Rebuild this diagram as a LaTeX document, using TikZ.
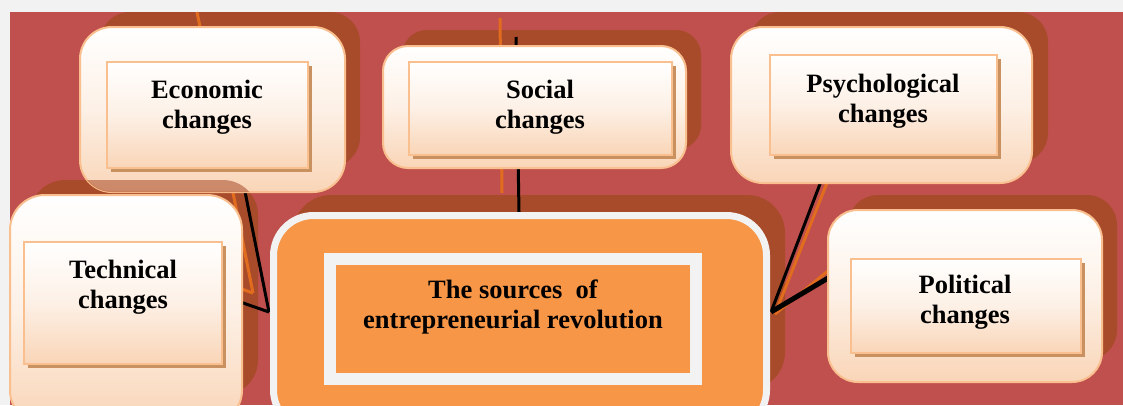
\documentclass[tikz,border=0pt]{standalone}
\usepackage{fontspec}
\setmainfont{Liberation Serif}
\usetikzlibrary{fit}
\definecolor{bgred}{RGB}{192,80,77}
\definecolor{pagegray}{RGB}{242,242,242}
\definecolor{shadowbrown}{RGB}{168,75,42}
\definecolor{peach}{RGB}{249,213,183}
\definecolor{peachborder}{RGB}{250,191,143}
\definecolor{tanshadow}{RGB}{201,145,96}
\definecolor{accorange}{RGB}{247,150,70}
\definecolor{darkorange}{RGB}{198,108,42}
\definecolor{lineorange}{RGB}{226,108,30}
\begin{document}
\begin{tikzpicture}[x=1pt,y=-1pt,
  outerbox/.style={draw=peachborder, line width=2pt, top color=white, bottom color=peach, middle color=peach!35!white, rounded corners=#1, inner sep=0pt},
  innerbox/.style={draw=peachborder, line width=2pt, top color=white, bottom color=peach, middle color=peach!35!white, inner sep=0pt},
  boxtext/.style={font=\fontsize{26.5}{30}\selectfont\bfseries, align=center, anchor=base, inner sep=0pt},
  link/.style={line width=3pt, black},
  linkshade/.style={line width=3pt, lineorange},
  shadowbox/.style={fill=shadowbrown, rounded corners=#1},
  innershadow/.style={fill=tanshadow}
]
\useasboundingbox (0,0) rectangle (1123,405);
\fill[pagegray] (0,0) rectangle (1123,405);
\fill[bgred] (10,12) rectangle (1123,405);

% shadows of the outer boxes
\fill[shadowbox=30pt] (100,12) rectangle (360,167);
\fill[shadowbox=25pt] (402,30) rectangle (701,150);
\fill[shadowbox=30pt] (750,12) rectangle (1048,163);
\fill[shadowbox=35pt] (30,180) rectangle (258,395);
\fill[shadowbox=38pt] (293,195) rectangle (785,390);
\fill[shadowbox=30pt] (848,195) rectangle (1117,360);

% connector end points
\coordinate (cl) at (269,312);
\coordinate (cr) at (771,312);
\coordinate (clsh) at (253,293);
\coordinate (crsh) at (775,314);
\coordinate (ecoend) at (213,31);
\coordinate (ecoendsh) at (197,12);
\coordinate (socend) at (516,37);
\coordinate (socstart) at (519,212);
\coordinate (socendsh) at (500,18);
\coordinate (socstartsh) at (502,193);
\coordinate (techend) at (200,288);
\coordinate (techendsh) at (184,269);
\coordinate (psyend) at (833,150);
\coordinate (psyendsh) at (840,150);
\coordinate (polend) at (850,265);
\coordinate (polendsh) at (850,253);

% connector shadows
\draw[linkshade] (clsh) -- (ecoendsh);
\draw[linkshade] (clsh) -- (techendsh);
\draw[linkshade] (socstartsh) -- (socendsh);
\draw[linkshade] (crsh) -- (psyendsh);
\draw[linkshade] (crsh) -- (polendsh);

% connectors
\draw[link] (cl) -- (ecoend);
\draw[link] (cl) -- (techend);
\draw[link] (socstart) -- (socend);
\draw[link] (cr) -- (psyend);
\draw[link, line width=5pt] (cr) -- (polend);

% outer boxes
\node[outerbox=32pt, fit={(80,27)(345,192)}] (econ) {};
\begin{scope}
  \clip[rounded corners=32pt] (80,27) rectangle (345,192);
  \fill[shadowbrown, opacity=0.55, rounded corners=35pt] (30,180) rectangle (258,395);
\end{scope}
\node[outerbox=25pt, fit={(383,46)(686,168)}] (soc) {};
\node[outerbox=32pt, fit={(731,27)(1032,183)}] (psy) {};
\node[outerbox=35pt, fit={(10,195)(242,425)}] (tech) {};
\node[outerbox=30pt, fit={(828,210)(1102,382)}] (pol) {};
\node[draw=pagegray, line width=7pt, fill=accorange, rounded corners=40pt, inner sep=0pt, fit={(273.5,215.5)(766.5,430)}] (central) {};

% inner rectangles
\fill[innershadow] (111,66) rectangle (312,172);
\node[innerbox, fit={(107,62)(308,168)}] (econin) {};
\fill[innershadow] (413,66) rectangle (676,159);
\node[innerbox, fit={(409,62)(672,155)}] (socin) {};
\fill[innershadow] (774,59) rectangle (1001,159);
\node[innerbox, fit={(770,55)(997,155)}] (psyin) {};
\fill[innershadow] (28,246) rectangle (226,368);
\node[innerbox, fit={(24,242)(222,364)}] (techin) {};
\fill[innershadow] (855,263) rectangle (1085,357);
\node[innerbox, fit={(851,259)(1081,353)}] (polin) {};
\fill[darkorange] (335,264) rectangle (701,384);
\node[draw=pagegray, line width=12pt, fill=accorange, inner sep=0pt, fit={(330,259)(696,379)}] (centralin) {};

% texts (anchor base = baseline of the last line)
\node[boxtext] (econtxt) at (207,128) {Economic\\changes};
\node[boxtext] (soctxt) at (540,128) {Social\\changes};
\node[boxtext] (psytxt) at (883,122) {Psychological\\changes};
\node[boxtext] (techtxt) at (123,308) {Technical\\changes};
\node[boxtext] (poltxt) at (965,323) {Political\\changes};
\node[boxtext] (centraltxt) at (513,328) {The sources~ of\\entrepreneurial revolution};
\end{tikzpicture}
\end{document}
